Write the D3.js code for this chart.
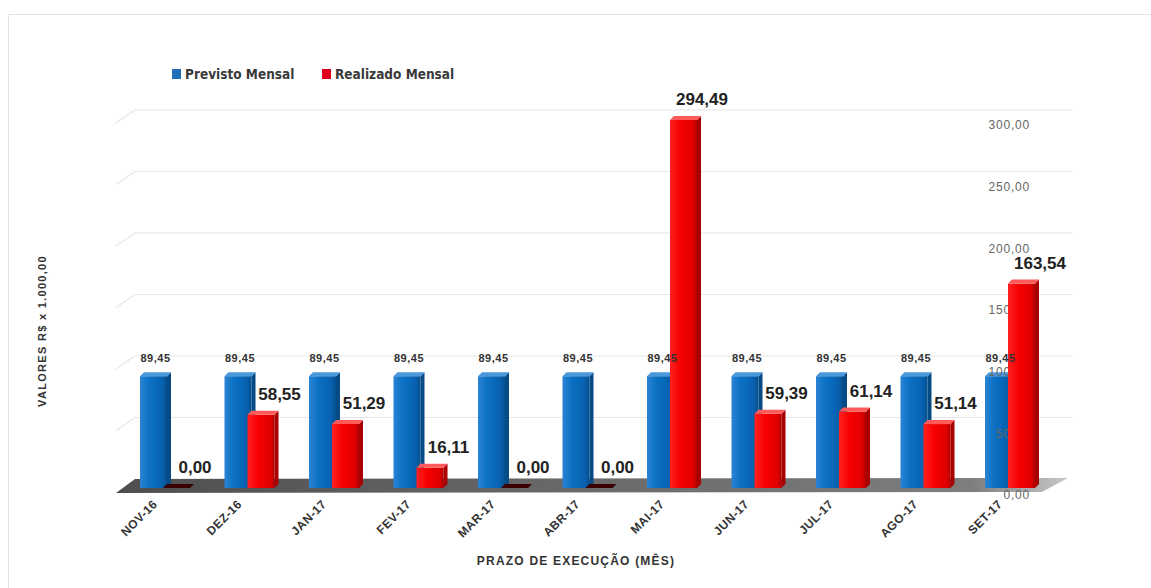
<!DOCTYPE html>
<html>
<head>
<meta charset="utf-8">
<script src="https://cdn.jsdelivr.net/npm/d3@7"></script>
<style>
  body { margin: 0; background: #fff; }
  svg { display: block; }
</style>
</head>
<body>
<div id="chart"></div>
<script>
const months = ["NOV-16", "DEZ-16", "JAN-17", "FEV-17", "MAR-17", "ABR-17",
  "MAI-17", "JUN-17", "JUL-17", "AGO-17", "SET-17"];
const previsto = [89.45, 89.45, 89.45, 89.45, 89.45, 89.45, 89.45, 89.45, 89.45, 89.45, 89.45];
const realizado = [0.00, 58.55, 51.29, 16.11, 0.00, 0.00, 294.49, 59.39, 61.14, 51.14, 163.54];
const yTicks = [0, 50, 100, 150, 200, 250, 300];
const seriesNames = ["Previsto Mensal", "Realizado Mensal"];

const width = 1151, height = 588;
const base = 488;
const barW = 27, dx = 4, dy = 4, redShift = 23;

const locale = d3.formatLocale({ decimal: ",", thousands: ".", grouping: [3], currency: ["R$", ""] });
const fmt = locale.format(",.2f");

const svg = d3.select("#chart").append("svg")
  .attr("width", width)
  .attr("height", height);

const defs = svg.append("defs");

function hGrad(id, stops) {
  const g = defs.append("linearGradient").attr("id", id)
    .attr("x1", "0%").attr("x2", "100%").attr("y1", "0%").attr("y2", "0%");
  stops.forEach(([o, c]) => g.append("stop").attr("offset", o).attr("stop-color", c));
}
hGrad("blueFront", [["0%", "#2a84d4"], ["35%", "#0b70c4"], ["80%", "#0862b0"], ["100%", "#05508f"]]);
hGrad("redFront", [["0%", "#ff2020"], ["40%", "#f60000"], ["85%", "#e00000"], ["100%", "#b00000"]]);
hGrad("floorGrad", [["0%", "#4e4e4e"], ["50%", "#6a6a6a"], ["90%", "#7e7e7e"], ["100%", "#c8c8c8"]]);

// frame
svg.append("rect")
  .attr("x", 8.5).attr("y", 14.5)
  .attr("width", 1160).attr("height", 600)
  .attr("fill", "none")
  .attr("stroke", "#e3e3e3");

// scales
const x = d3.scaleBand()
  .domain(months)
  .range([140, 140 + months.length * 84.5])
  .paddingInner(0).paddingOuter(0);

const y = d3.scaleLinear().domain([0, 300]).range([base, base - 300 * 1.25]);
const yWall = d3.scaleLinear().domain([0, 300]).range([479, 110]);
const yLab = d3.scaleLinear().domain([0, 300]).range([495, 125]);

// back wall gridlines
const grid = svg.append("g").attr("class", "grid");
yTicks.filter((t) => t > 0).forEach((t) => {
  grid.append("line")
    .attr("x1", 135).attr("x2", 1073)
    .attr("y1", yWall(t)).attr("y2", yWall(t))
    .attr("stroke", "#e6e6e6").attr("stroke-width", 1.2);
  grid.append("line")
    .attr("x1", 135).attr("x2", 116)
    .attr("y1", yWall(t)).attr("y2", yWall(t) + 13)
    .attr("stroke", "#e6e6e6").attr("stroke-width", 1.2);
});

// floor
svg.append("polygon")
  .attr("points", [[116, 493], [135, 479], [1068, 478], [1042, 492]].map((p) => p.join(",")).join(" "))
  .attr("fill", "url(#floorGrad)");

function drawBar(g, left, v, front, side, top, topZero) {
  const t = y(v);
  g.append("polygon")
    .attr("points", [[left + barW, t], [left + barW + dx, t - dy], [left + barW + dx, base - dy], [left + barW, base]]
      .map((p) => p.join(",")).join(" "))
    .attr("fill", side);
  g.append("rect")
    .attr("x", left).attr("y", t)
    .attr("width", barW).attr("height", base - t)
    .attr("fill", front);
  g.append("polygon")
    .attr("points", [[left, t], [left + dx, t - dy], [left + barW + dx, t - dy], [left + barW, t]]
      .map((p) => p.join(",")).join(" "))
    .attr("fill", v === 0 ? topZero : top);
}

// blue bars
const blueG = svg.append("g").attr("class", "previsto");
months.forEach((m, i) => {
  drawBar(blueG, x(m), previsto[i], "url(#blueFront)", "#064a86", "#4a97db", "#064a86");
});

// right value axis labels
const axisG = svg.append("g").attr("class", "y-axis");
axisG.selectAll("text")
  .data(yTicks)
  .enter()
  .append("text")
  .attr("x", 1030)
  .attr("y", (d) => yLab(d))
  .attr("dy", "0.35em")
  .attr("text-anchor", "end")
  .style("font-family", "Liberation Sans, Arial, sans-serif")
  .style("font-size", "12px")
  .style("letter-spacing", "0.8px")
  .style("fill", "#666")
  .text((d) => fmt(d));

// red bars
const redG = svg.append("g").attr("class", "realizado");
months.forEach((m, i) => {
  drawBar(redG, x(m) + redShift, realizado[i], "url(#redFront)", "#a80000", "#ff5a5a", "#3a0000");
});

// data labels
const labels = svg.append("g").attr("class", "labels")
  .style("font-family", "Liberation Sans, Arial, sans-serif")
  .style("font-weight", "bold");

labels.selectAll(".lab-prev")
  .data(months)
  .enter()
  .append("text")
  .attr("class", "lab-prev")
  .attr("x", (d) => x(d) + barW / 2 + 2)
  .attr("y", (d, i) => y(previsto[i]) - 14)
  .attr("text-anchor", "middle")
  .style("font-size", "11px")
  .style("letter-spacing", "0.5px")
  .style("fill", "#333")
  .text((d, i) => fmt(previsto[i]));

labels.selectAll(".lab-real")
  .data(months)
  .enter()
  .append("text")
  .attr("class", "lab-real")
  .attr("x", (d) => x(d) + redShift + barW + 5)
  .attr("y", (d, i) => y(realizado[i]) - 15)
  .attr("text-anchor", "middle")
  .style("font-size", "17px")
  .style("fill", "#222")
  .text((d, i) => fmt(realizado[i]));

// category labels
svg.append("g").attr("class", "x-axis")
  .selectAll("text")
  .data(months)
  .enter()
  .append("text")
  .attr("transform", (d) => `translate(${x(d) + 18}, 505) rotate(-45)`)
  .attr("text-anchor", "end")
  .style("font-family", "Liberation Sans, Arial, sans-serif")
  .style("font-weight", "bold")
  .style("font-size", "12px")
  .style("letter-spacing", "0.4px")
  .style("fill", "#333")
  .text((d) => d);

// axis titles
svg.append("text")
  .attr("x", 576).attr("y", 565)
  .attr("text-anchor", "middle")
  .style("font-family", "Liberation Sans, Arial, sans-serif")
  .style("font-weight", "bold")
  .style("font-size", "12px")
  .style("letter-spacing", "1.2px")
  .style("fill", "#333")
  .text("PRAZO DE EXECUÇÃO (MÊS)");

svg.append("text")
  .attr("transform", "translate(46, 331) rotate(-90)")
  .attr("text-anchor", "middle")
  .style("font-family", "Liberation Sans, Arial, sans-serif")
  .style("font-weight", "bold")
  .style("font-size", "11px")
  .style("letter-spacing", "1.3px")
  .style("fill", "#333")
  .text("VALORES R$ x 1.000,00");

// legend
const legendColors = ["#1f6fb8", "#e0001b"];
const legendX = [172, 322];
const legend = svg.append("g").attr("class", "legend");
seriesNames.forEach((name, i) => {
  legend.append("rect")
    .attr("x", legendX[i]).attr("y", 69)
    .attr("width", 9).attr("height", 10)
    .attr("fill", legendColors[i]);
  legend.append("text")
    .attr("x", legendX[i] + 13).attr("y", 79)
    .style("font-family", "Liberation Sans Narrow, DejaVu Sans Condensed, sans-serif")
    .style("font-size", "13.5px")
    .style("font-weight", "bold")
    .style("fill", "#3a3a3a")
    .text(name);
});
</script>
</body>
</html>
